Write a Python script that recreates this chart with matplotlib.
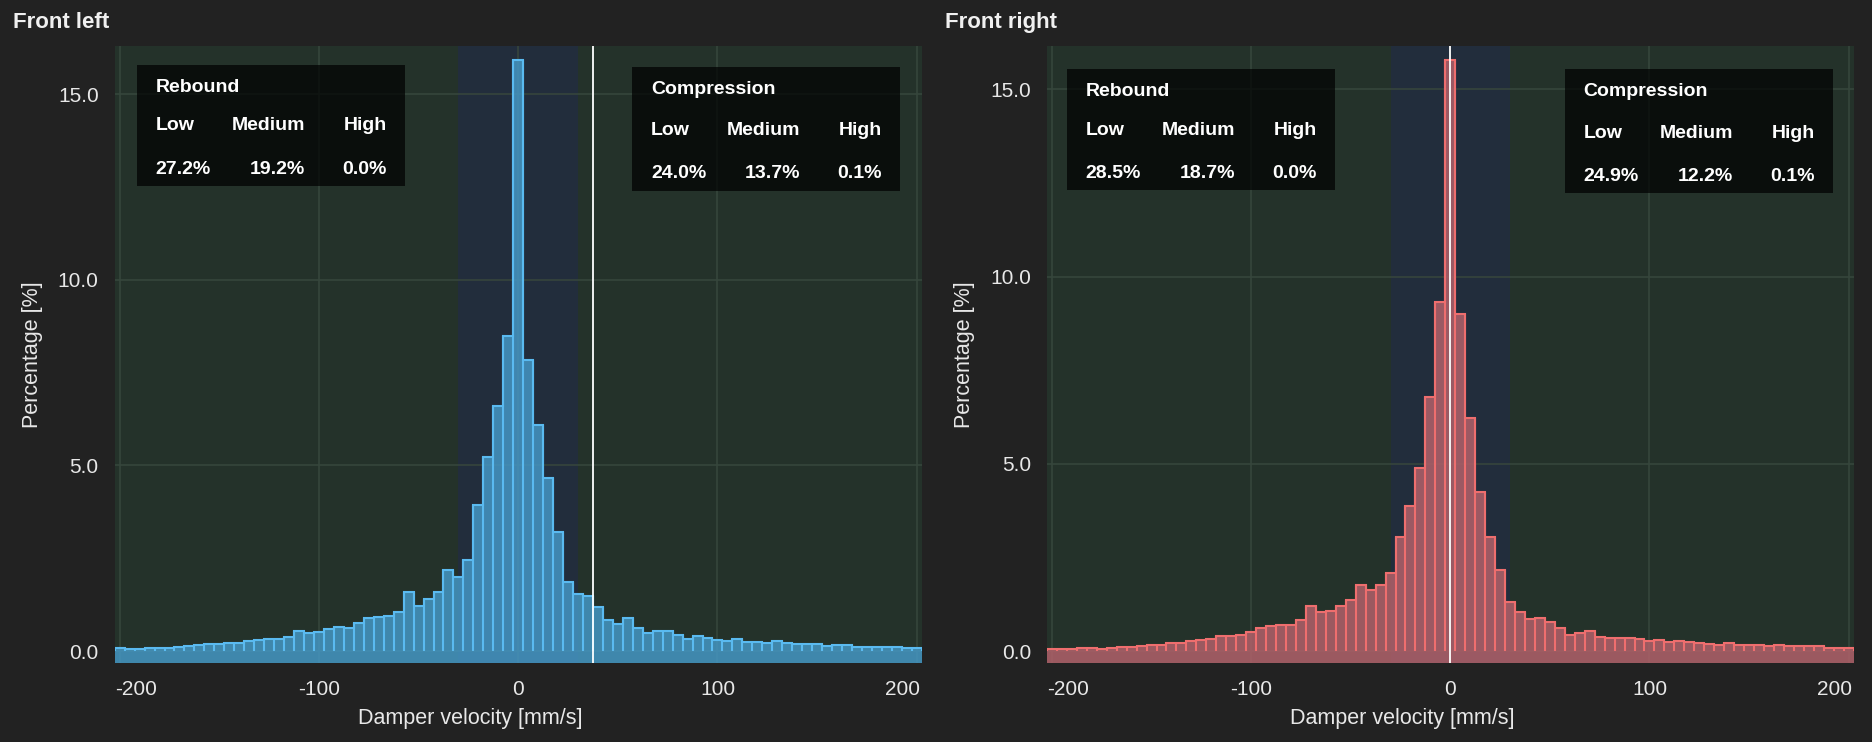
import numpy as np
import matplotlib.pyplot as plt
from matplotlib.patches import Rectangle
from matplotlib.transforms import ScaledTranslation

plt.rcParams['font.family'] = ['Liberation Sans', 'DejaVu Sans']

# histogram bins, 5 mm/s wide, centred on multiples of 5
velocity = np.arange(-200, 201, 5)

front_left_pct = [
    0.08, 0.06, 0.06, 0.085, 0.08, 0.08, 0.10, 0.14, 0.16, 0.18,
    0.18, 0.22, 0.22, 0.26, 0.31, 0.32, 0.32, 0.38, 0.535, 0.49,
    0.51, 0.60, 0.66, 0.625, 0.75, 0.885, 0.93, 0.95, 1.065, 1.60,
    1.22, 1.40, 1.60, 2.19, 1.99, 2.46, 3.94, 5.24, 6.60, 8.49,
    15.92, 7.83, 6.10, 4.65, 3.20, 1.855, 1.54, 1.49, 1.19, 0.83,
    0.74, 0.90, 0.62, 0.49, 0.535, 0.53, 0.44, 0.32, 0.40, 0.365,
    0.30, 0.275, 0.32, 0.24, 0.25, 0.23, 0.275, 0.21, 0.185, 0.195,
    0.195, 0.14, 0.16, 0.16, 0.12, 0.12, 0.12, 0.12, 0.12, 0.095,
    0.095]

front_right_pct = [
    0.068, 0.06, 0.06, 0.085, 0.077, 0.068, 0.094, 0.103, 0.11, 0.139,
    0.157, 0.157, 0.219, 0.21, 0.27, 0.29, 0.325, 0.40, 0.40, 0.44,
    0.52, 0.63, 0.67, 0.69, 0.69, 0.83, 1.22, 1.06, 1.09, 1.21,
    1.38, 1.76, 1.65, 1.77, 2.08, 3.05, 3.88, 4.90, 6.79, 9.33,
    15.77, 8.99, 6.22, 4.24, 3.04, 2.17, 1.31, 1.04, 0.85, 0.88,
    0.77, 0.62, 0.44, 0.49, 0.54, 0.37, 0.36, 0.36, 0.35, 0.33,
    0.28, 0.30, 0.26, 0.27, 0.245, 0.23, 0.19, 0.17, 0.21, 0.17,
    0.18, 0.157, 0.13, 0.157, 0.14, 0.14, 0.14, 0.14, 0.10, 0.10,
    0.10]

# white marker line position per corner
marker_left = 37.7
marker_right = 0.0

# low speed zone
low_zone = (-30, 30)

speed_labels = ['Low', 'Medium', 'High']
rebound_left = ['27.2%', '19.2%', '0.0%']
compression_left = ['24.0%', '13.7%', '0.1%']
rebound_right = ['28.5%', '18.7%', '0.0%']
compression_right = ['24.9%', '12.2%', '0.1%']

xticks = [-200, -100, 0, 100, 200]
xtick_labels = ['-200', '-100', '0', '100', '200']
yticks = [0, 5, 10, 15]
ytick_labels = ['0.0', '5.0', '10.0', '15.0']

W, H = 1872, 742
FIG_BG = '#222222'
AX_BG = '#24322a'
BAND = '#222d3c'
GRID = '#37473d'
TXT = '#e8e8e8'


def fx(px):
    return px / W


def fy(py):
    return 1 - py / H


fig = plt.figure(figsize=(W / 100, H / 100), dpi=100, facecolor=FIG_BG)


def panel(left_px, right_px, vals, ylim, marker, fill, edge):
    ax = fig.add_axes([fx(left_px), fy(662.6), (right_px - left_px) / W, (662.6 - 46.4) / H])
    ax.set_facecolor(AX_BG)
    for s in ax.spines.values():
        s.set_visible(False)
    vals = np.array(vals)
    edges = np.append(velocity - 2.5, velocity[-1] + 2.5)

    ax.axvspan(*low_zone, color=BAND, zorder=0.2, lw=0)
    ax.grid(True, color=GRID, linewidth=1.1)
    ax.set_axisbelow(True)

    # bars: fill, then outlines (tops + sides), strip below zero
    ax.bar(velocity, vals, width=5, color=fill, alpha=0.85, linewidth=0, zorder=2)
    ax.axhspan(ylim[0], 0, color=fill, alpha=0.85, lw=0, zorder=2)
    ax.stairs(vals, edges, baseline=None, color=edge, lw=1.5, zorder=3)
    sides = np.maximum(np.r_[0, vals], np.r_[vals, 0])
    ax.vlines(edges, 0, sides, color=edge, lw=1.5, zorder=3)

    ax.axvline(marker, color='white', lw=1.3, zorder=4)

    ax.set_xlim(-202.5, 202.5)
    ax.set_ylim(*ylim)
    ax.set_xticks(xticks)
    ax.set_xticklabels(xtick_labels)
    ax.set_yticks(yticks)
    ax.set_yticklabels(ytick_labels)
    ax.tick_params(axis='both', length=0, labelsize=15, labelcolor=TXT)
    ax.tick_params(axis='x', pad=12.5)
    ax.tick_params(axis='y', pad=11.5)

    # end labels are kept inside the plot width
    labs = ax.get_xticklabels()
    labs[0].set_ha('left')
    labs[0].set_transform(labs[0].get_transform() + ScaledTranslation(-0.046, 0, fig.dpi_scale_trans))
    labs[-1].set_ha('right')
    labs[-1].set_transform(labs[-1].get_transform() + ScaledTranslation(0.035, 0, fig.dpi_scale_trans))
    return ax


def stats_box(left, top, height, rows, title, values):
    fig.add_artist(Rectangle((fx(left), fy(top + height)), 268 / W, height / H,
                             transform=fig.transFigure, facecolor='black', alpha=0.7,
                             lw=0, zorder=5))
    kw = dict(color='white', fontsize=14, fontweight='bold', va='baseline', zorder=6)
    fig.text(fx(left + 19), fy(top + rows[0]), title, ha='left', **kw)
    xs = [left + 19, left + 168.5, left + 250]
    has = ['left', 'right', 'right']
    for i in range(3):
        fig.text(fx(xs[i]), fy(top + rows[1]), speed_labels[i], ha=has[i], **kw)
        fig.text(fx(xs[i]), fy(top + rows[2]), values[i], ha=has[i], **kw)


panel(114.7, 921.7, front_left_pct, (-0.31, 16.29), marker_left, '#4597c4', '#5abaf0')
panel(1047, 1853.6, front_right_pct, (-0.30, 16.14), marker_right, '#b1616a', '#ee6e6e')

reb_rows = (27, 65.5, 109)
comp_rows = (27, 68.7, 111.7)
stats_box(136.7, 64.7, 121, reb_rows, 'Rebound', rebound_left)
stats_box(632.2, 66.7, 124, comp_rows, 'Compression', compression_left)
stats_box(1066.7, 69.1, 121, reb_rows, 'Rebound', rebound_right)
stats_box(1564.7, 69.1, 124, comp_rows, 'Compression', compression_right)

# panel titles and axis labels
fig.text(fx(12.7), fy(28.3), 'Front left', color='#f0f0f0', fontsize=16, fontweight='bold', va='baseline')
fig.text(fx(945), fy(28.3), 'Front right', color='#f0f0f0', fontsize=16, fontweight='bold', va='baseline')
for cx, ly in [(470, 33), (1402, 964.5)]:
    fig.text(fx(cx), fy(718.6), 'Damper velocity [mm/s]', color=TXT, fontsize=15.5, ha='center', va='center')
    fig.text(fx(ly), fy(354.5), 'Percentage [%]', color=TXT, fontsize=15.5, rotation=90,
             ha='center', va='center')

fig.savefig('out.png', dpi=100, facecolor=FIG_BG)
